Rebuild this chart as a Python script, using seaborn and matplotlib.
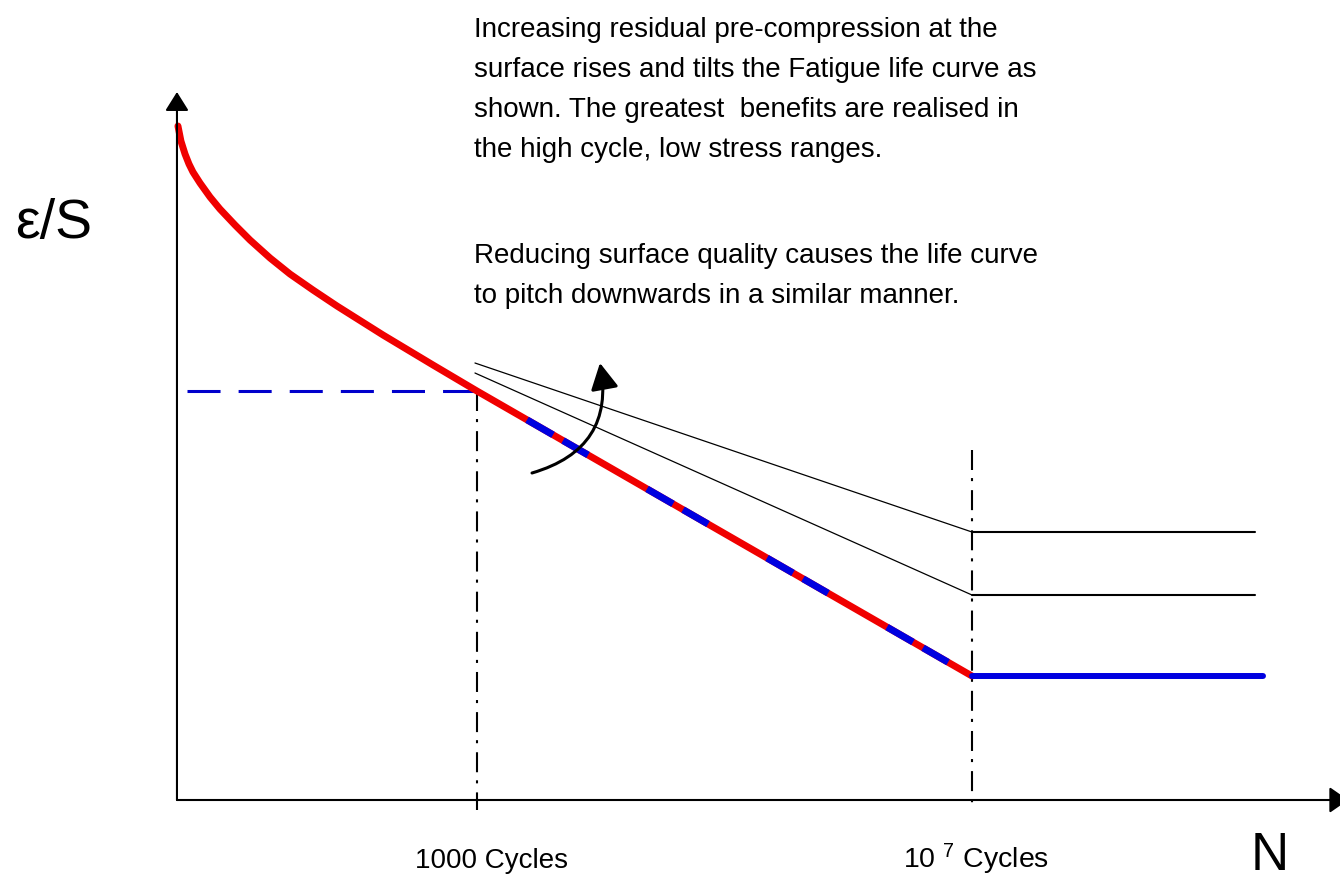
import matplotlib
matplotlib.use("Agg")
import matplotlib.pyplot as plt
import numpy as np
import pandas as pd
import seaborn as sns

# S-N (fatigue life) schematic: x is log10 of cycles, y is stress/strain amplitude (arbitrary units)
origin_logN = 0.576
knee_logN = 3.0        # 1000 cycles
endurance_logN = 7.0   # 10^7 cycles

# Low-cycle part of the life curve (red)
lcf_logN = [0.584, 0.608, 0.641, 0.673, 0.705, 0.762, 0.843, 0.923, 1.045, 1.166,
            1.328, 1.489, 1.675, 1.869, 2.241, 2.645, 3.0]
lcf_S = [6.74, 6.59, 6.46, 6.36, 6.28, 6.17, 6.03, 5.91, 5.75, 5.60,
         5.42, 5.26, 5.10, 4.94, 4.65, 4.35, 4.09]

# High-cycle straight part, 1000 -> 10^7 cycles
hcf_logN = [3.0, 7.0]
hcf_S = [4.09, 1.24]

# Endurance limit plateau (baseline)
plateau_logN = [7.0, 9.352]
plateau_S = [1.24, 1.24]

# Raised curves from residual pre-compression
raised_logN = [2.984, 7.0, 9.287]
raised_hi_S = [4.37, 2.68, 2.68]
raised_lo_S = [4.27, 2.05, 2.05]

S_at_1000 = 4.09
endurance_top_S = 3.50

body_lines_1 = [
    "Increasing residual pre-compression at the",
    "surface rises and tilts the Fatigue life curve as",
    "shown. The greatest  benefits are realised in",
    "the high cycle, low stress ranges.",
]
body_lines_2 = [
    "Reducing surface quality causes the life curve",
    "to pitch downwards in a similar manner.",
]
tick_label_1000 = "1000 Cycles"
tick_label_1e7 = r"10 $^{7}$ Cycles"

sns.set_theme(style="white")
plt.rcParams["font.family"] = ["Liberation Sans", "DejaVu Sans"]
plt.rcParams["mathtext.default"] = "regular"
plt.rcParams["lines.scale_dashes"] = False

RED = "#F00000"
BLUE = "#0000E0"

fig = plt.figure(figsize=(13.4, 8.83), dpi=100)
ax = fig.add_axes([0, 0, 1, 1])
ax.set_xlim(-0.854, 9.974)
ax.set_ylim(-0.83, 8.0)
ax.axis("off")

# axes with arrow heads
ax.annotate("", xy=(origin_logN, 7.08), xytext=(origin_logN, 0.0),
            arrowprops=dict(arrowstyle="-|>,head_length=11.5,head_width=7.2",
                            mutation_scale=1, lw=1.5, color="black",
                            shrinkA=0, shrinkB=0))
ax.annotate("", xy=(10.04, 0.0), xytext=(origin_logN, 0.0), annotation_clip=False,
            arrowprops=dict(arrowstyle="-|>,head_length=11.5,head_width=8",
                            mutation_scale=1, lw=1.5, color="black",
                            shrinkA=0, shrinkB=0))

# vertical dash-dot guides at 1000 and 10^7 cycles
dashdot = (0, (14.4, 5.8, 2.2, 6.5))
ax.plot([knee_logN, knee_logN], [S_at_1000, -0.1], color="black", lw=1.5, linestyle=dashdot)
ax.plot([endurance_logN, endurance_logN], [endurance_top_S, -0.1], color="black", lw=1.5,
        linestyle=dashdot)

# horizontal dashed level of S at 1000 cycles
ax.plot([0.657, knee_logN], [S_at_1000, S_at_1000], color="#0000CC", lw=2.2,
        linestyle=(0, (23.8, 13.0)))

# raised life curves (thin slopes + plateaus)
for s in (raised_hi_S, raised_lo_S):
    ax.plot(raised_logN[:2], s[:2], color="black", lw=0.9)
    ax.plot(raised_logN[1:], s[1:], color="black", lw=1.5)

# baseline life curve
sns.lineplot(x=lcf_logN + hcf_logN[1:], y=lcf_S + hcf_S[1:], ax=ax, color=RED, lw=5,
             solid_capstyle="round", solid_joinstyle="round")
ax.plot(hcf_logN, hcf_S, color=BLUE, lw=5, linestyle=(58.1, (21.6, 8.3, 20.8, 49.0)))
sns.lineplot(x=plateau_logN, y=plateau_S, ax=ax, color=BLUE, lw=4.3, solid_capstyle="round")

# curved arrow showing the rise/tilt of the curve
ax.annotate("", xy=(3.994, 4.37), xytext=(3.445, 3.27),
            arrowprops=dict(arrowstyle="-|>,head_length=16,head_width=8.5",
                            mutation_scale=1, lw=2.2, color="black",
                            connectionstyle="arc3,rad=0.45", shrinkA=0, shrinkB=0))

# labels
ax.text(3.12, -0.68, tick_label_1000, ha="center", va="baseline", fontsize=20, color="black")
ax.text(6.443, -0.68, tick_label_1e7, ha="left", va="baseline", fontsize=20.5, color="black")
ax.text(9.25, -0.70, "N", ha="left", va="baseline", fontsize=38, color="black")
fig.text(15 / 1340, 1 - 238 / 883, "ε/S", ha="left", va="baseline", fontsize=40,
         color="black")

for i, line in enumerate(body_lines_1):
    fig.text(474 / 1340, 1 - (37 + 40 * i) / 883, line, ha="left", va="baseline",
             fontsize=20, color="black")
for i, line in enumerate(body_lines_2):
    fig.text(474 / 1340, 1 - (263 + 40 * i) / 883, line, ha="left", va="baseline",
             fontsize=20, color="black")

fig.savefig("out.png", dpi=100)
